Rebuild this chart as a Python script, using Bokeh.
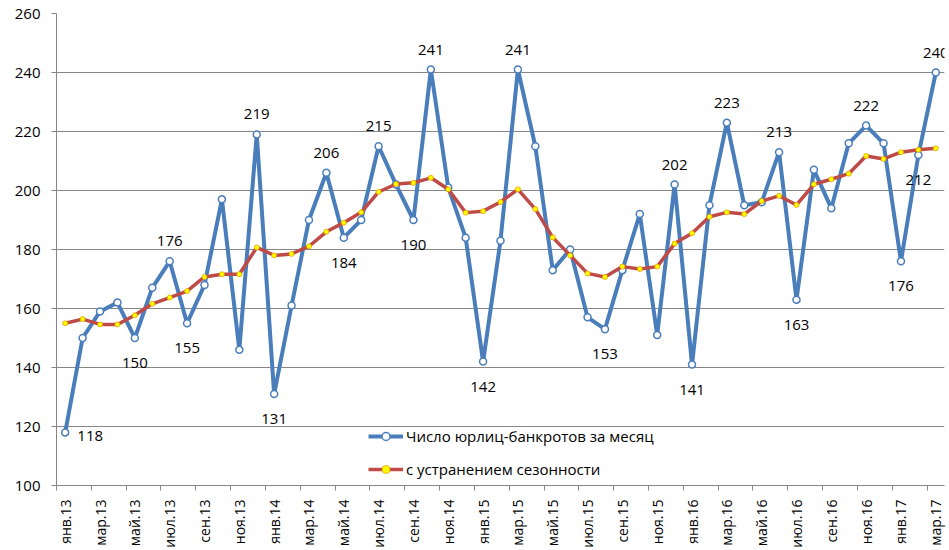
import numpy as np
from bokeh.plotting import figure
from bokeh.models import Range1d, FixedTicker, Legend, LegendItem, ColumnDataSource
from bokeh.core.properties import value
from bokeh.embed import file_html
from bokeh.resources import INLINE

# ---- data -------------------------------------------------------------
MONTHS = ["янв", "фев", "мар", "апр", "май", "июн",
          "июл", "авг", "сен", "окт", "ноя", "дек"]
YEARS = ["13", "14", "15", "16", "17"]
categories = [f"{m}.{y}" for y in YEARS for m in MONTHS][:51]

# Число юрлиц-банкротов за месяц
bankrupts = [118, 150, 159, 162, 150, 167, 176, 155, 168, 197, 146, 219,
             131, 161, 190, 206, 184, 190, 215, 202, 190, 241, 201, 184,
             142, 183, 241, 215, 173, 180, 157, 153, 173, 192, 151, 202,
             141, 195, 223, 195, 196, 213, 163, 207, 194, 216, 222, 216,
             176, 212, 240]

# с устранением сезонности
seasonal = [155.0, 156.4, 154.6, 154.6, 157.7, 161.6, 163.7, 165.9, 170.7, 171.6, 171.6, 180.7,
            178.0, 178.5, 181.1, 186.0, 189.1, 192.6, 199.5, 202.2, 202.6, 204.3, 200.4, 192.5,
            193.0, 196.1, 200.4, 193.7, 184.1, 178.0, 171.9, 170.7, 174.2, 173.4, 174.2, 182.0,
            185.5, 191.1, 192.6, 192.0, 196.4, 198.2, 195.1, 202.1, 203.8, 205.7, 211.7, 210.7,
            213.0, 213.8, 214.3]

y_ticks = [100, 120, 140, 160, 180, 200, 220, 240, 260]

# which points of the monthly series carry a data label, and where
label_points = {0: "right", 4: "below", 6: "above", 7: "below", 11: "above",
                12: "below", 15: "above", 16: "below", 18: "above", 20: "below",
                21: "above", 24: "below", 26: "above", 31: "below", 35: "above",
                36: "below", 38: "above", 41: "above", 42: "below", 46: "above",
                48: "below", 49: "below", 50: "above"}

# ---- styling ----------------------------------------------------------
FONT = "Open Sans"
GRID = "#868686"
BLUE = "#4A7EBB"
RED = "#BE4B48"

x = list(range(len(categories)))

p = figure(width=949, height=550,
           x_range=Range1d(-0.5, len(categories) - 0.5),
           y_range=Range1d(100, 260),
           output_backend="svg", toolbar_location=None,
           min_border_left=56, min_border_right=5,
           min_border_top=13, min_border_bottom=64)
p.outline_line_color = None
p.background_fill_color = "white"
p.xgrid.visible = False
p.ygrid.grid_line_color = GRID
p.ygrid.grid_line_width = 1

# y axis
p.yaxis.ticker = FixedTicker(ticks=y_ticks)
p.yaxis.axis_line_color = GRID
p.yaxis.major_tick_line_color = GRID
p.yaxis.major_tick_out = 5
p.yaxis.major_tick_in = 0
p.yaxis.minor_tick_line_color = None
p.yaxis.major_label_text_font = FONT
p.yaxis.major_label_text_font_size = "15px"
p.yaxis.major_label_text_color = "black"
p.yaxis.major_label_standoff = 11

# x axis
p.xaxis.ticker = FixedTicker(ticks=x[::2],
                             minor_ticks=[i - 0.5 for i in x[::2]])
p.xaxis.major_label_overrides = {i: categories[i] for i in x[::2]}
p.xaxis.major_label_orientation = np.pi / 2
p.xaxis.axis_line_color = GRID
p.xaxis.major_tick_line_color = None
p.xaxis.major_tick_out = 0
p.xaxis.major_tick_in = 0
p.xaxis.minor_tick_line_color = GRID
p.xaxis.minor_tick_out = 5
p.xaxis.minor_tick_in = 0
p.xaxis.major_label_text_font = FONT
p.xaxis.major_label_text_font_size = "14px"
p.xaxis.major_label_text_color = "black"
p.xaxis.major_label_standoff = 9

# series
blue_line = p.line(x, bankrupts, line_color=BLUE, line_width=4, line_join="round")
blue_pts = p.scatter(x, bankrupts, size=7, fill_color="white",
                     line_color=BLUE, line_width=1.5)
red_line = p.line(x, seasonal, line_color=RED, line_width=3.5, line_join="round")
red_pts = p.scatter(x, seasonal, size=5, fill_color="#FFFF00",
                    line_color="#E8A000", line_width=0.8)

# data labels
offsets = {"above": (0, -20), "below": (0, 25), "right": (25, 4)}
idx = sorted(label_points)
lab_src = ColumnDataSource(dict(
    x=idx,
    y=[bankrupts[i] for i in idx],
    text=[str(bankrupts[i]) for i in idx],
    dx=[offsets[label_points[i]][0] for i in idx],
    dy=[offsets[label_points[i]][1] for i in idx],
))
p.text(x="x", y="y", text="text", x_offset="dx", y_offset="dy", source=lab_src,
       text_font=value(FONT), text_font_size="15px", text_color="black",
       text_align="center", text_baseline="middle")

legend = Legend(items=[
    LegendItem(label="Число юрлиц-банкротов за месяц", renderers=[blue_line, blue_pts]),
    LegendItem(label="с устранением сезонности", renderers=[red_line, red_pts]),
], location=(312, 6), glyph_width=35, glyph_height=20, label_standoff=3,
    spacing=13, padding=0, margin=0, border_line_color=None,
    background_fill_alpha=0, label_text_font=FONT, label_text_font_size="15px",
    label_text_color="black")
p.add_layout(legend)

open("out.html", "w").write(file_html(p, INLINE))
